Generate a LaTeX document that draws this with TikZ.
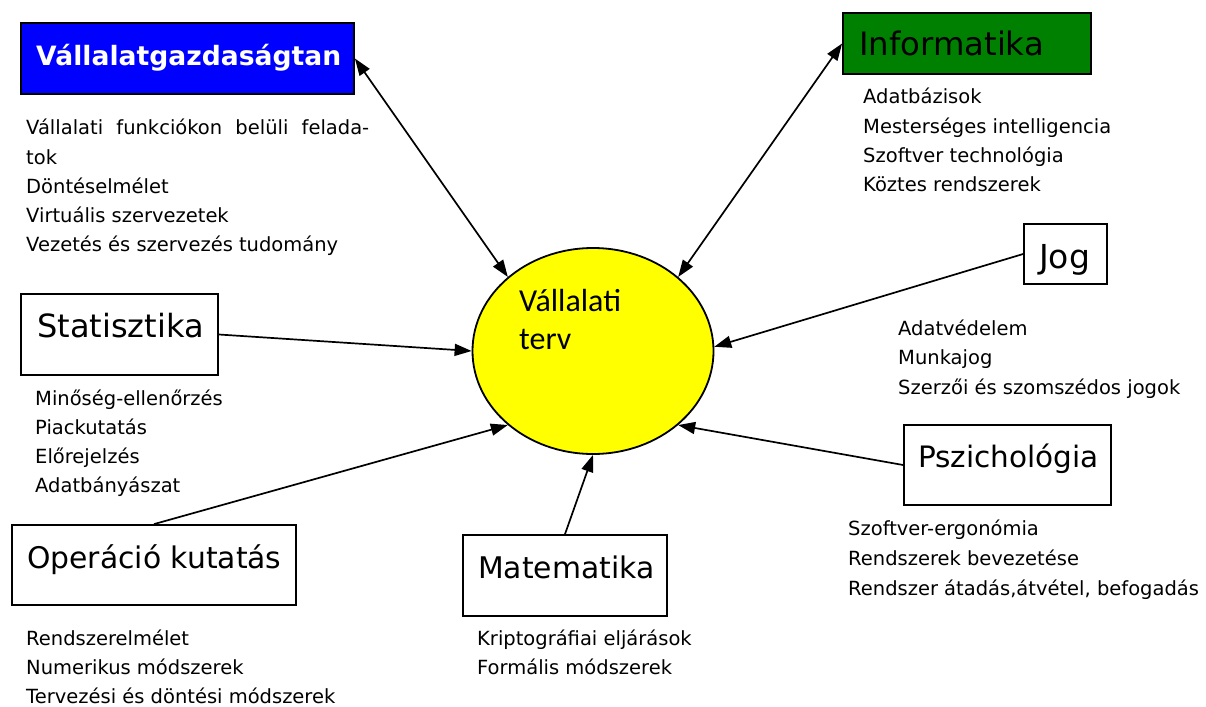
\documentclass[tikz,border=0pt]{standalone}
\usepackage{fontspec}
\setmainfont{DejaVu Sans}
\newfontfamily\calfont{Carlito}
\usetikzlibrary{arrows.meta,shapes.geometric}
\definecolor{boxblue}{RGB}{0,0,255}
\definecolor{boxgreen}{RGB}{0,128,0}
\definecolor{ellyellow}{RGB}{255,255,0}
\tikzset{
  box/.style={draw=black, line width=1.8pt, rectangle, inner sep=0pt},
  title/.style={anchor=base west, inner sep=0pt, font=\fontsize{#1}{36}\selectfont},
  item/.style={anchor=base west, inner sep=0pt, font=\fontsize{19.5}{29}\selectfont},
  conn/.style={line width=1.7pt, -{Triangle[length=17pt,width=12pt]}},
  bconn/.style={line width=1.7pt, {Triangle[length=17pt,width=12pt]}-{Triangle[length=17pt,width=12pt]}}
}
\begin{document}
\begin{tikzpicture}[x=1pt,y=-1pt]
\useasboundingbox (0,0) rectangle (1206,706);

% central ellipse
\node[draw=black, line width=1.8pt, fill=ellyellow, ellipse, minimum width=241pt, minimum height=206pt, inner sep=0pt] (ell) at (593,351) {};
\node[anchor=base west, inner sep=0pt, font=\calfont\fontsize{32}{38}\selectfont] (ellt1) at (519,311) {Vállalati};
\node[anchor=base west, inner sep=0pt, font=\calfont\fontsize{32}{38}\selectfont] (ellt2) at (519,349) {terv};

% boxes
\node[box, fill=boxblue, minimum width=333pt, minimum height=71pt] (vg) at (187.5,58.5) {};
\node[box, fill=boxgreen, minimum width=248pt, minimum height=61pt] (inf) at (967,43.5) {};
\node[box, fill=white, minimum width=83pt, minimum height=60pt] (jog) at (1065.5,254) {};
\node[box, fill=white, minimum width=197pt, minimum height=81pt] (stat) at (119.5,334.5) {};
\node[box, fill=white, minimum width=284pt, minimum height=80pt] (op) at (154,565) {};
\node[box, fill=white, minimum width=204pt, minimum height=81pt] (mat) at (565,575.5) {};
\node[box, fill=white, minimum width=207pt, minimum height=80pt] (psz) at (1007.5,465) {};

% titles
\node[anchor=base west, inner sep=0pt, text=white, font=\fontsize{26.6}{30}\selectfont\bfseries] (vgt) at (36,66) {Vállalatgazdaságtan};
\node[title=32.3] (inft) at (859,56) {Informatika};
\node[title=33] (jogt) at (1039,268) {Jog};
\node[title=32] (statt) at (37,337) {Statisztika};
\node[title=29.8] (opt) at (27,568) {Operáció kutatás};
\node[title=29.8] (matt) at (478,578) {Matematika};
\node[title=29.5] (pszt) at (918,467) {Pszichológia};

% lists
\node[item] (vg0) at (26,135) {\makebox[343pt][s]{Vállalati funkciókon belüli felada-}};
\foreach \t [count=\i] in {tok, Döntéselmélet, Virtuális szervezetek, Vezetés és szervezés tudomány}
  \node[item] (vg\i) at (26,135+29*\i) {\t};
\foreach \t [count=\i from 0] in {Adatbázisok, Mesterséges intelligencia, Szoftver technológia, Köztes rendszerek}
  \node[item] (inf\i) at (863,104+29*\i) {\t};
\foreach \t [count=\i from 0] in {Adatvédelem, Munkajog, Szerzői és szomszédos jogok}
  \node[item] (jog\i) at (898,335+29.5*\i) {\t};
\foreach \t [count=\i from 0] in {Minőség-ellenőrzés, Piackutatás, Előrejelzés, Adatbányászat}
  \node[item] (stat\i) at (35,405+29.3*\i) {\t};
\foreach \t [count=\i from 0] in {Rendszerelmélet, Numerikus módszerek, Tervezési és döntési módszerek}
  \node[item] (op\i) at (26,645+29*\i) {\t};
\foreach \t [count=\i from 0] in {Kriptográfiai eljárások, Formális módszerek}
  \node[item] (mat\i) at (477,645+29*\i) {\t};
\foreach \t [count=\i from 0] in {Szoftver-ergonómia, Rendszerek bevezetése, {Rendszer átadás,átvétel, befogadás}}
  \node[item] (psz\i) at (848,535+30*\i) {\t};

% connectors
\draw[bconn] (vg.east) -- (ell.139);
\draw[bconn] (inf.west) -- (ell.41);
\draw[conn] (jog.west) -- (ell.2);
\draw[conn] (stat.east) -- (ell.west);
\draw[conn] (op.north) -- (ell.221);
\draw[conn] (mat.north) -- (ell.south);
\draw[conn] (psz.west) -- (ell.319);
\end{tikzpicture}
\end{document}
